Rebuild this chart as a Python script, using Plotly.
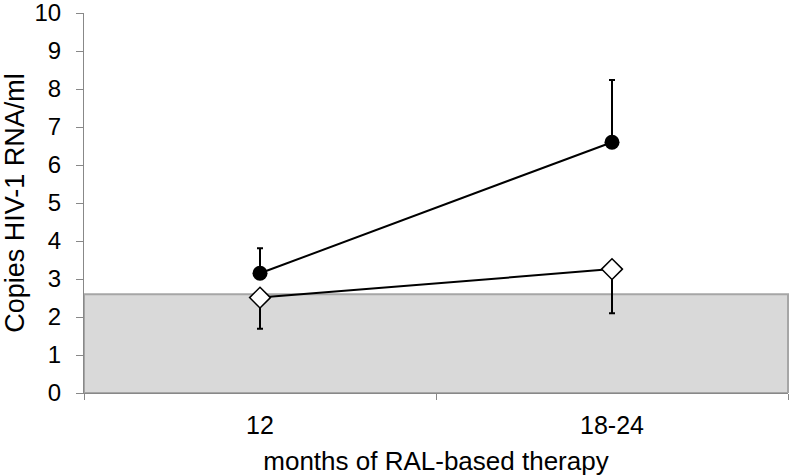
import plotly.graph_objects as go

months = ["12", "18-24"]
filled_mean = [3.15, 6.6]
filled_err_up = [0.66, 1.64]
open_mean = [2.51, 3.26]
open_err_down = [0.82, 1.16]
shade_top = 2.6

fig = go.Figure()

fig.add_shape(type="rect", xref="paper", yref="y", x0=0, x1=1, y0=0, y1=shade_top,
              fillcolor="#d9d9d9", line=dict(color="#a6a6a6", width=2), layer="below")

fig.add_trace(go.Scatter(
    x=months, y=filled_mean, mode="lines+markers",
    line=dict(color="black", width=2),
    marker=dict(symbol="circle", size=15, color="black"),
    error_y=dict(type="data", symmetric=False, array=filled_err_up,
                 arrayminus=[0, 0], color="black", thickness=2, width=3),
))
fig.add_trace(go.Scatter(
    x=months, y=open_mean, mode="lines+markers",
    line=dict(color="black", width=2),
    marker=dict(symbol="diamond", size=16, color="white",
                line=dict(color="black", width=1.5)),
    error_y=dict(type="data", symmetric=False, array=[0, 0],
                 arrayminus=open_err_down, color="black", thickness=2, width=3),
))

fig.update_layout(
    width=792, height=476,
    margin=dict(l=84, r=4, t=13, b=83),
    plot_bgcolor="white", paper_bgcolor="white",
    showlegend=False,
    font=dict(family="Liberation Sans", color="black"),
)
fig.update_xaxes(
    type="category", range=[-0.5, 1.5], automargin=False,
    showline=True, linecolor="#888888", linewidth=1,
    ticks="outside", tickson="boundaries", ticklen=6, tickcolor="#888888",
    tickfont=dict(size=25), ticklabelstandoff=10,
    showgrid=False, zeroline=False,
    title=dict(text="months of RAL-based therapy", font=dict(size=26), standoff=18),
)
fig.update_yaxes(
    range=[0, 10], dtick=1, automargin=False, ticklabeloverflow="allow",
    showline=True, linecolor="#888888", linewidth=1,
    ticks="outside", ticklen=7, tickcolor="#888888",
    tickfont=dict(size=24), ticklabelstandoff=10,
    showgrid=False, zeroline=False,
    title=dict(text="Copies HIV-1 RNA/ml", font=dict(size=27), standoff=9),
)

# drop the browser's default 8px body margin so the figure fills the window
fig.write_html("out.html", config={"displayModeBar": False},
               post_script="document.body.style.margin = '0px';")
